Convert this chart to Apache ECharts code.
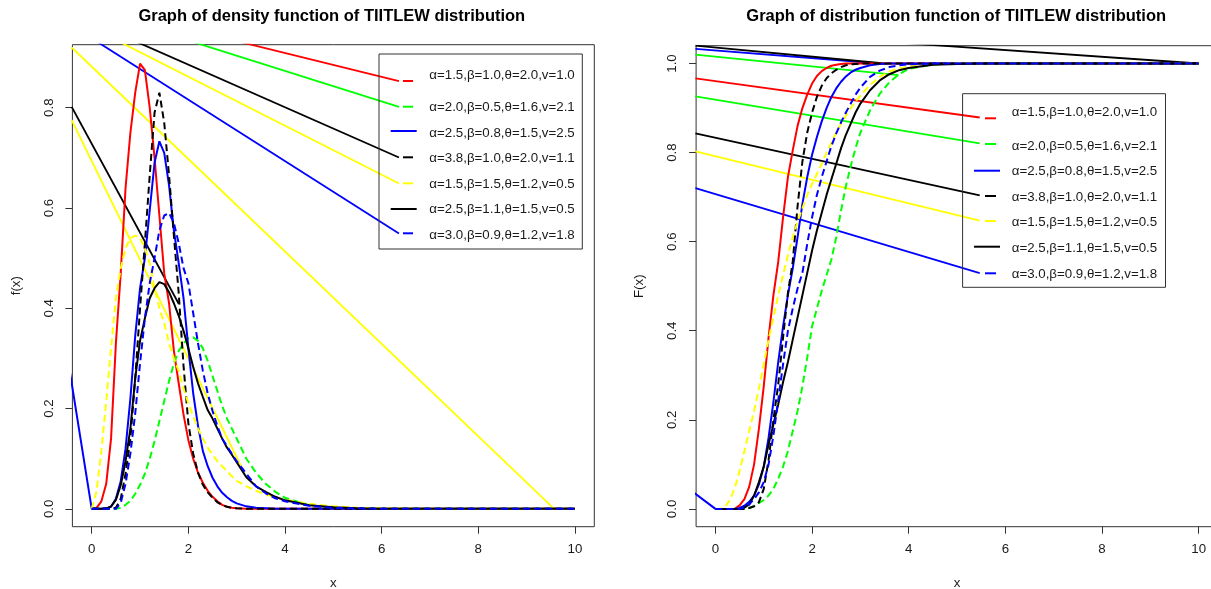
<!DOCTYPE html>
<html><head><meta charset="utf-8">
<script src="https://cdn.jsdelivr.net/npm/echarts@6/dist/echarts.min.js"></script>
<style>html,body{margin:0;padding:0;background:#fff}#c{width:1211px;height:589px}</style>
</head><body><div id="c"></div>
<script>
// ---------------- data ----------------
const xGrid = [0,0.1,0.2,0.3,0.4,0.5,0.6,0.7,0.8,0.9,1.0,1.1,1.2,1.3,1.4,1.5,1.6,1.7,1.8,1.9,2.0,2.1,2.2,2.3,2.4,2.5,2.6,2.7,2.8,2.9,3.0,3.2,3.4,3.6,3.8,4.0,4.5,5.0,5.5,6.0,7,8,9,10];

const legendLabels = ['α=1.5,β=1.0,θ=2.0,v=1.0','α=2.0,β=0.5,θ=1.6,v=2.1','α=2.5,β=0.8,θ=1.5,v=2.5','α=3.8,β=1.0,θ=2.0,v=1.1','α=1.5,β=1.5,θ=1.2,v=0.5','α=2.5,β=1.1,θ=1.5,v=0.5','α=3.0,β=0.9,θ=1.2,v=1.8'];

// density f(x)
const pdfRed = [0,0.002,0.015,0.05,0.14,0.33,0.47,0.64,0.75,0.83, 0.888,0.875,0.80,0.70,0.585,0.47,0.41,0.315,0.25,0.188, 0.137,0.10,0.072,0.052,0.036,0.024,0.015,0.008,0.004,0.002, 0.001, 0,0,0,0,0, 0,0,0,0, 0,0,0,0];
const pdfGreen = [0,0,0,0,0,0,0.002,0.008,0.016,0.03, 0.048,0.07,0.10,0.135,0.175,0.215,0.255,0.29,0.315,0.33, 0.34,0.342,0.335,0.32,0.295,0.265,0.235,0.205,0.18,0.16, 0.14, 0.10,0.072,0.05,0.034,0.022, 0.007,0.002,0.001,0, 0,0,0,0];
const pdfBlue = [0,0,0,0.001,0.004,0.02,0.055,0.12,0.22,0.345, 0.44,0.50,0.595,0.69,0.733,0.71,0.645,0.555,0.49,0.42, 0.32,0.23,0.165,0.115,0.085,0.062,0.045,0.032,0.023,0.016, 0.011, 0.005,0.002,0.001,0,0, 0,0,0,0, 0,0,0,0];
const pdfBlackDash = [0,0,0,0,0,0.002,0.02,0.07,0.14,0.26, 0.40,0.53,0.665,0.79,0.83,0.77,0.665,0.545,0.43,0.285, 0.17,0.11,0.072,0.048,0.033,0.022,0.013,0.008,0.004,0.002, 0.001, 0,0,0,0,0, 0,0,0,0, 0,0,0,0];
const pdfYellowDash = [0,0.035,0.115,0.215,0.32,0.42,0.48,0.52,0.54,0.545, 0.54,0.52,0.49,0.44,0.40,0.37,0.33,0.30,0.275,0.24, 0.21,0.185,0.16,0.14,0.122,0.108,0.095,0.085,0.075,0.065, 0.056, 0.045,0.036,0.029,0.023,0.018, 0.01,0.005,0.002,0.001, 0,0,0,0];
const pdfBlack = [0,0,0,0.001,0.005,0.018,0.047,0.095,0.16,0.26, 0.335,0.38,0.42,0.44,0.452,0.448,0.432,0.41,0.385,0.355, 0.32,0.283,0.25,0.223,0.197,0.18,0.16,0.14,0.122,0.108, 0.093, 0.063,0.045,0.034,0.024,0.017, 0.007,0.003,0.001,0, 0,0,0,0];
const pdfBlueDash = [0,0,0,0,0,0,0.012,0.05,0.11,0.19, 0.29,0.38,0.45,0.50,0.555,0.585,0.59,0.57,0.53,0.48, 0.45,0.39,0.33,0.275,0.23,0.195,0.165,0.14,0.125,0.11, 0.095, 0.07,0.045,0.031,0.021,0.015, 0.006,0.002,0.001,0, 0,0,0,0];

// distribution F(x)
const cdfRed = [0,0,0,0,0,0.008,0.022,0.05,0.10,0.18, 0.275,0.385,0.48,0.555,0.655,0.745,0.805,0.86,0.90,0.93, 0.955,0.972,0.983,0.99,0.995,0.997,0.999,1,1,1, 1, 1,1,1,1,1, 1,1,1,1, 1,1,1,1];
const cdfGreen = [0,0,0,0,0,0,0,0.002,0.006,0.013, 0.02,0.03,0.045,0.068,0.095,0.13,0.175,0.22,0.275,0.34, 0.41,0.45,0.49,0.525,0.56,0.61,0.67,0.725,0.77,0.81, 0.845, 0.895,0.932,0.958,0.976,0.988, 0.998,1,1,1, 1,1,1,1];
const cdfBlue = [0,0,0,0,0,0.002,0.007,0.016,0.03,0.055, 0.095,0.16,0.24,0.33,0.41,0.48,0.54,0.61,0.685,0.745, 0.795,0.835,0.87,0.90,0.925,0.944,0.959,0.971,0.98,0.986, 0.99, 0.996,0.999,1,1,1, 1,1,1,1, 1,1,1,1];
const cdfBlackDash = [0,0,0,0,0,0,0,0.002,0.006,0.015, 0.045,0.11,0.20,0.28,0.385,0.485,0.555,0.68,0.78,0.845, 0.89,0.925,0.95,0.967,0.978,0.986,0.992,0.996,0.998,0.999, 1, 1,1,1,1,1, 1,1,1,1, 1,1,1,1];
const cdfYellowDash = [0,0,0.005,0.02,0.047,0.085,0.13,0.175,0.22,0.27, 0.325,0.38,0.43,0.48,0.525,0.57,0.61,0.645,0.675,0.705, 0.73,0.752,0.775,0.80,0.823,0.845,0.865,0.883,0.90,0.915, 0.928, 0.952,0.97,0.982,0.989,0.993, 0.998,1,1,1, 1,1,1,1];
const cdfBlack = [0,0,0,0,0,0,0.003,0.01,0.03,0.06, 0.095,0.145,0.19,0.235,0.285,0.33,0.38,0.43,0.48,0.53, 0.58,0.625,0.665,0.705,0.74,0.775,0.81,0.84,0.865,0.89, 0.91, 0.94,0.962,0.976,0.985,0.99, 0.997,0.999,1,1, 1,1,1,1];
const cdfBlueDash = [0,0,0,0,0,0,0.003,0.01,0.022,0.037, 0.06,0.10,0.165,0.245,0.325,0.40,0.45,0.495,0.53,0.595, 0.655,0.705,0.745,0.78,0.815,0.843,0.868,0.89,0.91,0.93, 0.946, 0.97,0.984,0.992,0.996,0.998, 1,1,1,1, 1,1,1,1];

// extra straight segments present in the reference (data units)
const pdfBlueLead = [-0.45, 0.272];
const pdfLineRed = [[-0.5, 1.016], [6.358, 0.853]];
const pdfLineGreen = [[-0.5, 1.010], [6.358, 0.8016]];
const pdfLineBlack = [[-0.5, 0.992], [6.358, 0.7006]];
const pdfLineYellow = [[-0.5, 0.984], [6.358, 0.6487]];
const pdfLineBlue = [[-0.5, 0.969], [6.358, 0.5489]];
const pdfLineYellowLong = [[-0.414, 0.92], [9.57, 0]];
const pdfLineYellowMid = [[-0.414, 0.775], [3.14, 0.075]];
const pdfLineBlackMid = [[-0.414, 0.8016], [1.8, 0.409]];

const cdfBlueLead = [-0.45, 0.037];
const cdfLineRed = [[-0.414, 0.9667], [5.469, 0.8788]];
const cdfLineGreen = [[-0.414, 0.926], [5.469, 0.8209]];
const cdfLineBlack = [[-0.414, 0.843], [5.469, 0.7037]];
const cdfLineYellow = [[-0.414, 0.803], [5.469, 0.6474]];
const cdfLineBlue = [[-0.414, 0.720], [5.469, 0.5295]];
const cdfLineGreenTop = [[-0.414, 1.0198], [3.79, 0.974]];
const cdfLineBlueTop = [[-0.414, 1.033], [3.41, 1.0]];
const cdfLineBlackTop = [[-0.414, 1.040], [3.5, 1.0]];
const cdfLineBlackLong = [[-0.414, 1.0786], [10, 1.0]];

const xTickValues = [0,2,4,6,8,10];
const xTickLabels = ['0','2','4','6','8','10'];
const pdfTickValues = [0,0.2,0.4,0.6,0.8];
const pdfTickLabels = ['0.0','0.2','0.4','0.6','0.8'];
const cdfTickValues = [0,0.2,0.4,0.6,0.8,1.0];
const cdfTickLabels = ['0.0','0.2','0.4','0.6','0.8','1.0'];

// ---------------- chart ----------------
const FONT = '"Liberation Sans", Arial, sans-serif';
const RED='#ff0000', GREEN='#00ff00', BLUE='#0000ff', BLACK='#000000', YELLOW='#ffff00';
const DASH=[7,4];

function lookup(vals, labels){ return v => { let b=0; for(let i=0;i<vals.length;i++){ if(Math.abs(vals[i]-v)<Math.abs(vals[b]-v)) b=i; } return labels[b]; }; }

function curve(idx, name, ys, color, dashed, lead){
  const d = xGrid.map((x,i)=>[x, ys[i]]);
  if(lead) d.unshift(lead);
  return {type:'line', name, xAxisIndex:idx, yAxisIndex:idx, data:d, symbol:'none', showSymbol:false, clip:true, silent:true,
    lineStyle:{color, width:2, type: dashed?DASH:'solid'}, z:3};
}
function seg(idx, pts, color){
  return {type:'line', xAxisIndex:idx, yAxisIndex:idx, data:pts, symbol:'none', showSymbol:false, clip:true, silent:true,
    lineStyle:{color, width:1.8, type:'solid'}, z:2};
}

const grids = [
  {left:72.4, top:44.7, width:521.9, height:482, containLabel:false, outerBoundsMode:'none', show:true, borderColor:'#333', borderWidth:1, backgroundColor:'transparent'},
  {left:696.1, top:45.7, width:521.9, height:481, containLabel:false, outerBoundsMode:'none', show:true, borderColor:'#333', borderWidth:1, backgroundColor:'transparent'}
];
const textBase = {fontFamily:FONT, fontSize:13.3, color:'#1a1a1a'};

const xAxes = [0,1].map(i=>({
  type:'value', gridIndex:i, min:-0.4, max:10.4, position:'bottom',
  axisLine:{show:false, onZero:false}, splitLine:{show:false},
  axisTick:{show:true, customValues:xTickValues, length:7, lineStyle:{color:'#333', width:1}},
  axisLabel:Object.assign({customValues:xTickValues, formatter:lookup(xTickValues,xTickLabels), margin:16}, textBase),
  name:'x', nameLocation:'middle', nameGap:50, nameTextStyle:Object.assign({}, textBase)
}));
const yAxes = [
  {type:'value', gridIndex:0, min:-0.0356, max:0.9256, position:'left',
   axisLine:{show:false, onZero:false}, splitLine:{show:false},
   axisTick:{show:true, customValues:pdfTickValues, length:7, lineStyle:{color:'#333', width:1}},
   axisLabel:Object.assign({customValues:pdfTickValues, formatter:lookup(pdfTickValues,pdfTickLabels), rotate:90, margin:17}, textBase),
   name:'f(x)', nameLocation:'middle', nameGap:50, nameRotate:90, nameTextStyle:Object.assign({}, textBase)},
  {type:'value', gridIndex:1, min:-0.04, max:1.04, position:'left',
   axisLine:{show:false, onZero:false}, splitLine:{show:false},
   axisTick:{show:true, customValues:cdfTickValues, length:7, lineStyle:{color:'#333', width:1}},
   axisLabel:Object.assign({customValues:cdfTickValues, formatter:lookup(cdfTickValues,cdfTickLabels), rotate:90, margin:17}, textBase),
   name:'F(x)', nameLocation:'middle', nameGap:50, nameRotate:90, nameTextStyle:Object.assign({}, textBase)}
];

const series = [
  curve(0, legendLabels[0], pdfRed, RED, false),
  curve(0, legendLabels[1], pdfGreen, GREEN, true),
  curve(0, legendLabels[2], pdfBlue, BLUE, false, pdfBlueLead),
  curve(0, legendLabels[3], pdfBlackDash, BLACK, true),
  curve(0, legendLabels[4], pdfYellowDash, YELLOW, true),
  curve(0, legendLabels[5], pdfBlack, BLACK, false),
  curve(0, legendLabels[6], pdfBlueDash, BLUE, true),
  seg(0, pdfLineRed, RED), seg(0, pdfLineGreen, GREEN), seg(0, pdfLineBlack, BLACK),
  seg(0, pdfLineYellow, YELLOW), seg(0, pdfLineBlue, BLUE),
  seg(0, pdfLineYellowLong, YELLOW), seg(0, pdfLineYellowMid, YELLOW), seg(0, pdfLineBlackMid, BLACK),

  curve(1, legendLabels[0], cdfRed, RED, false),
  curve(1, legendLabels[1], cdfGreen, GREEN, true),
  curve(1, legendLabels[2], cdfBlue, BLUE, false, cdfBlueLead),
  curve(1, legendLabels[3], cdfBlackDash, BLACK, true),
  curve(1, legendLabels[4], cdfYellowDash, YELLOW, true),
  curve(1, legendLabels[5], cdfBlack, BLACK, false),
  curve(1, legendLabels[6], cdfBlueDash, BLUE, true),
  seg(1, cdfLineRed, RED), seg(1, cdfLineGreen, GREEN), seg(1, cdfLineBlack, BLACK),
  seg(1, cdfLineYellow, YELLOW), seg(1, cdfLineBlue, BLUE),
  seg(1, cdfLineGreenTop, GREEN), seg(1, cdfLineBlueTop, BLUE), seg(1, cdfLineBlackTop, BLACK),
  seg(1, cdfLineBlackLong, BLACK)
];

// legend boxes drawn as graphics (layout like the R legend)
const legendColors = [RED, GREEN, BLUE, BLACK, YELLOW, BLACK, BLUE];
const legendKinds = ['dash','dash','solid','dash','dash','solid','dash'];
function legendGraphic(L){
  const els = [{type:'rect', shape:{x:L.x, y:L.y, width:L.w, height:L.h}, style:{fill:'transparent', stroke:'#333', lineWidth:1}, z:10}];
  legendLabels.forEach((t,i)=>{
    const sg = legendKinds[i]==='dash' ? L.dash : L.solid;
    els.push({type:'line', shape:{x1:sg[0], y1:L.symY[i], x2:sg[1], y2:L.symY[i]}, style:{stroke:legendColors[i], lineWidth:2}, z:10});
    els.push({type:'text', style:{text:t, x:L.tx, y:L.textY[i], font:'13.3px "Liberation Sans", Arial, sans-serif', fill:'#1a1a1a', textAlign:'left', align:'left', textVerticalAlign:'middle', verticalAlign:'middle'}, z:10});
  });
  return els;
}
const graphics = [].concat(
  legendGraphic({x:379, y:54, w:203.3, h:195, tx:429.3, dash:[403,413], solid:[390.7,416.7],
    textY:[75,107.3,133.3,158.3,184.3,209.3,235], symY:[81,106.7,131,157.3,183.3,209,233.3]}),
  legendGraphic({x:962.6, y:93.7, w:202.9, h:193.6, tx:1011.7, dash:[985,996], solid:[974,1000],
    textY:[112.3,146.7,171.7,197.3,222.7,248.3,274], symY:[118.3,144,170.7,196,221,246.7,273.3]}),
  [
    {type:'text', style:{text:'Graph of density function of TIITLEW distribution', x:331.8, y:16.5, font:'bold 16.5px "Liberation Sans", Arial, sans-serif', fill:'#000', textAlign:'center', align:'center', textVerticalAlign:'middle', verticalAlign:'middle'}},
    {type:'text', style:{text:'Graph of distribution function of TIITLEW distribution', x:956.2, y:16.5, font:'bold 16.5px "Liberation Sans", Arial, sans-serif', fill:'#000', textAlign:'center', align:'center', textVerticalAlign:'middle', verticalAlign:'middle'}}
  ]
);

const chart = echarts.init(document.getElementById('c'), null, {renderer:'canvas', width:1211, height:589});
chart.setOption({
  animation:false,
  backgroundColor:'#ffffff',
  grid:grids, xAxis:xAxes, yAxis:yAxes, series, graphic:graphics
});
</script>
</body></html>
